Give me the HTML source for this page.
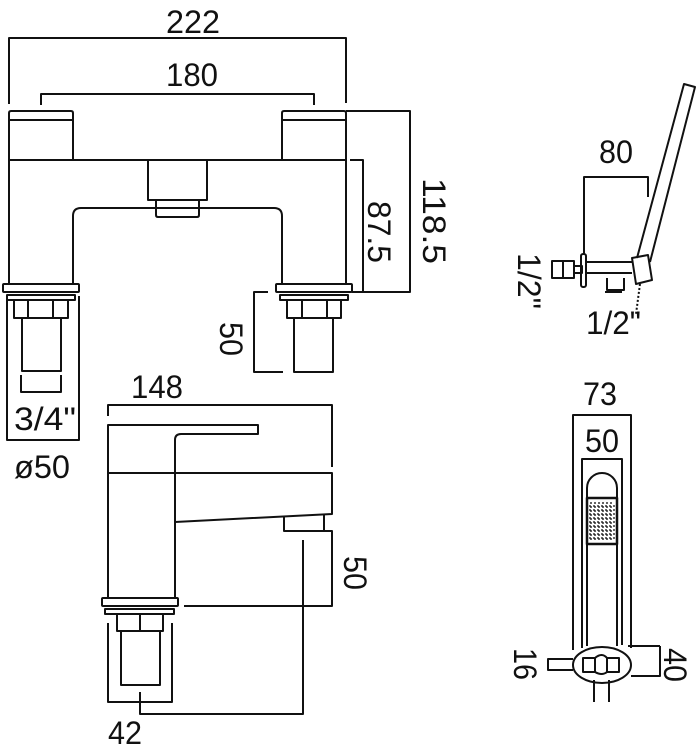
<!DOCTYPE html>
<html><head><meta charset="utf-8"><style>
html,body{margin:0;padding:0;background:#fff;}
svg{display:block}
text{font-family:"Liberation Sans",sans-serif;font-size:32px;fill:#111;}
</style></head><body>
<svg width="700" height="754" viewBox="0 0 700 754" xmlns="http://www.w3.org/2000/svg">
<g fill="none" stroke="#111" stroke-width="2" stroke-linejoin="round">
<path d="M9,104 V38 H346 V103"/>
<path d="M41,105 V94 H314 V105"/>
<path d="M9,160 V113 Q9,111 11,111 H71 Q73,111 73,113 V160"/><path d="M9,120 H73"/>
<path d="M282,160 V113 Q282,111 284,111 H344 Q346,111 346,113 V160"/><path d="M282,120 H346"/>
<path d="M9,283 V160 H346 V283"/>
<path d="M73,283 V216 Q73,208 81,208 H274 Q282,208 282,216 V283"/>
<path d="M148,160 V200 H207 V160"/>
<path d="M156,200 V215 Q156,217 158,217 H197 Q199,217 199,215 V200"/>
<rect x="3" y="284" width="76" height="8" rx="1"/>
<rect x="7" y="295" width="68" height="5"/>
<path d="M14,300 V318 H68 V300 M28,300 V318 M53,300 V318"/>
<path d="M22,318 V371 H61 V318"/>
<path d="M21,375 V392 H61 V375"/>
<path d="M7,296 V440 H79 V296"/>
<rect x="276" y="284" width="76" height="8" rx="1"/>
<rect x="280" y="295" width="68" height="5"/>
<path d="M287,300 V318 H341 V300 M302,300 V318 M327,300 V318"/>
<path d="M294,318 V372 H333 V318"/>
<path d="M268,292 H254 V372 H283"/>
<path d="M350,160 H363 V292"/>
<path d="M346,111 H410 V292 H352"/>
<path d="M108,416 V405 H332 V467"/>
<path d="M108,598 V425 H258 V434 H181 Q175,434 175,440 V598"/>
<path d="M108,473 H332 V514 L175,522"/>
<path d="M284,516 V531 H324 V514"/>
<path d="M324,531 H332 V606 H184"/>
<rect x="102" y="598" width="76" height="8" rx="1"/>
<rect x="105" y="609" width="69" height="5"/>
<path d="M117,614 V631 H163 V614 M140,614 V631"/>
<path d="M121,631 V685 H160 V631"/>
<path d="M108,623 V702 H172 V623"/>
<path d="M140,692 V714 H303 V540"/>
<path d="M584,255 V177 H648 V197"/>
<path d="M637,258 L684,84 L695,87 L650,262"/>
<rect x="552" y="261" width="22" height="17"/>
<path d="M563,261 V278"/>
<rect x="574" y="266" width="8" height="7"/>
<rect x="581" y="254" width="5" height="33" rx="2"/>
<path d="M586,262 H632 M586,273 H632"/>
<path d="M632,258 L648,255 L652,280 L636,284 Z"/>
<path d="M607,278 V290 H624 V278"/>
<path d="M605,292 H622"/>
<path d="M640,284 L636,314" stroke-dasharray="2,2"/>
<path d="M573,650 V415 H631 V648"/>
<path d="M582,648 V459 H622 V645"/>
<path d="M587,646 V488 A15,15 0 0 1 617,488 V646"/>
<rect x="587" y="498" width="30" height="46" fill="#fff" stroke-width="2.5"/>
<ellipse cx="602" cy="665" rx="29" ry="18" fill="#fff"/>
<rect x="583" y="658" width="12" height="14"/>
<rect x="607" y="658" width="12" height="14"/>
<path d="M595,658 Q602,652 607,658 M595,672 Q602,676 607,672"/>
<path d="M594,680 V702 M609,680 V702"/>
<path d="M573,659 H548 V670 H573"/>
<path d="M628,646 H660 M631,676 H660 V646"/>
</g>
<g stroke="#111" stroke-width="1.3">
<path d="M591,502 V540 M595,502 V540 M599,502 V540 M603,502 V540 M607,502 V540 M611,502 V540 M589,506 H615 M589,510 H615 M589,514 H615 M589,518 H615 M589,522 H615 M589,526 H615 M589,530 H615 M589,534 H615 M589,538 H615" stroke-dasharray="2,2"/>
</g>
<text x="166" y="33" textLength="54" lengthAdjust="spacingAndGlyphs">222</text>
<text x="166" y="86" textLength="52" lengthAdjust="spacingAndGlyphs">180</text>
<text x="14" y="430" textLength="62" lengthAdjust="spacingAndGlyphs">3/4"</text>
<text x="14" y="478" textLength="56" lengthAdjust="spacingAndGlyphs">ø50</text>
<text x="131" y="398" textLength="52" lengthAdjust="spacingAndGlyphs">148</text>
<text x="108" y="744" textLength="34" lengthAdjust="spacingAndGlyphs">42</text>
<text x="599" y="163" textLength="34" lengthAdjust="spacingAndGlyphs">80</text>
<text x="586" y="334" textLength="55" lengthAdjust="spacingAndGlyphs">1/2"</text>
<text x="583" y="405" textLength="34" lengthAdjust="spacingAndGlyphs">73</text>
<text x="585" y="452" textLength="34" lengthAdjust="spacingAndGlyphs">50</text>
<text transform="translate(368,201) rotate(90)" textLength="62" lengthAdjust="spacingAndGlyphs">87.5</text>
<text transform="translate(423,178) rotate(90)" textLength="86" lengthAdjust="spacingAndGlyphs">118.5</text>
<text transform="translate(220,322) rotate(90)" textLength="34" lengthAdjust="spacingAndGlyphs">50</text>
<text transform="translate(344,556) rotate(90)" textLength="34" lengthAdjust="spacingAndGlyphs">50</text>
<text transform="translate(518,253) rotate(90)" textLength="56" lengthAdjust="spacingAndGlyphs">1/2"</text>
<text transform="translate(514,648) rotate(90)" textLength="32" lengthAdjust="spacingAndGlyphs">16</text>
<text transform="translate(664,648) rotate(90)" textLength="34" lengthAdjust="spacingAndGlyphs">40</text>
</svg>
</body></html>
